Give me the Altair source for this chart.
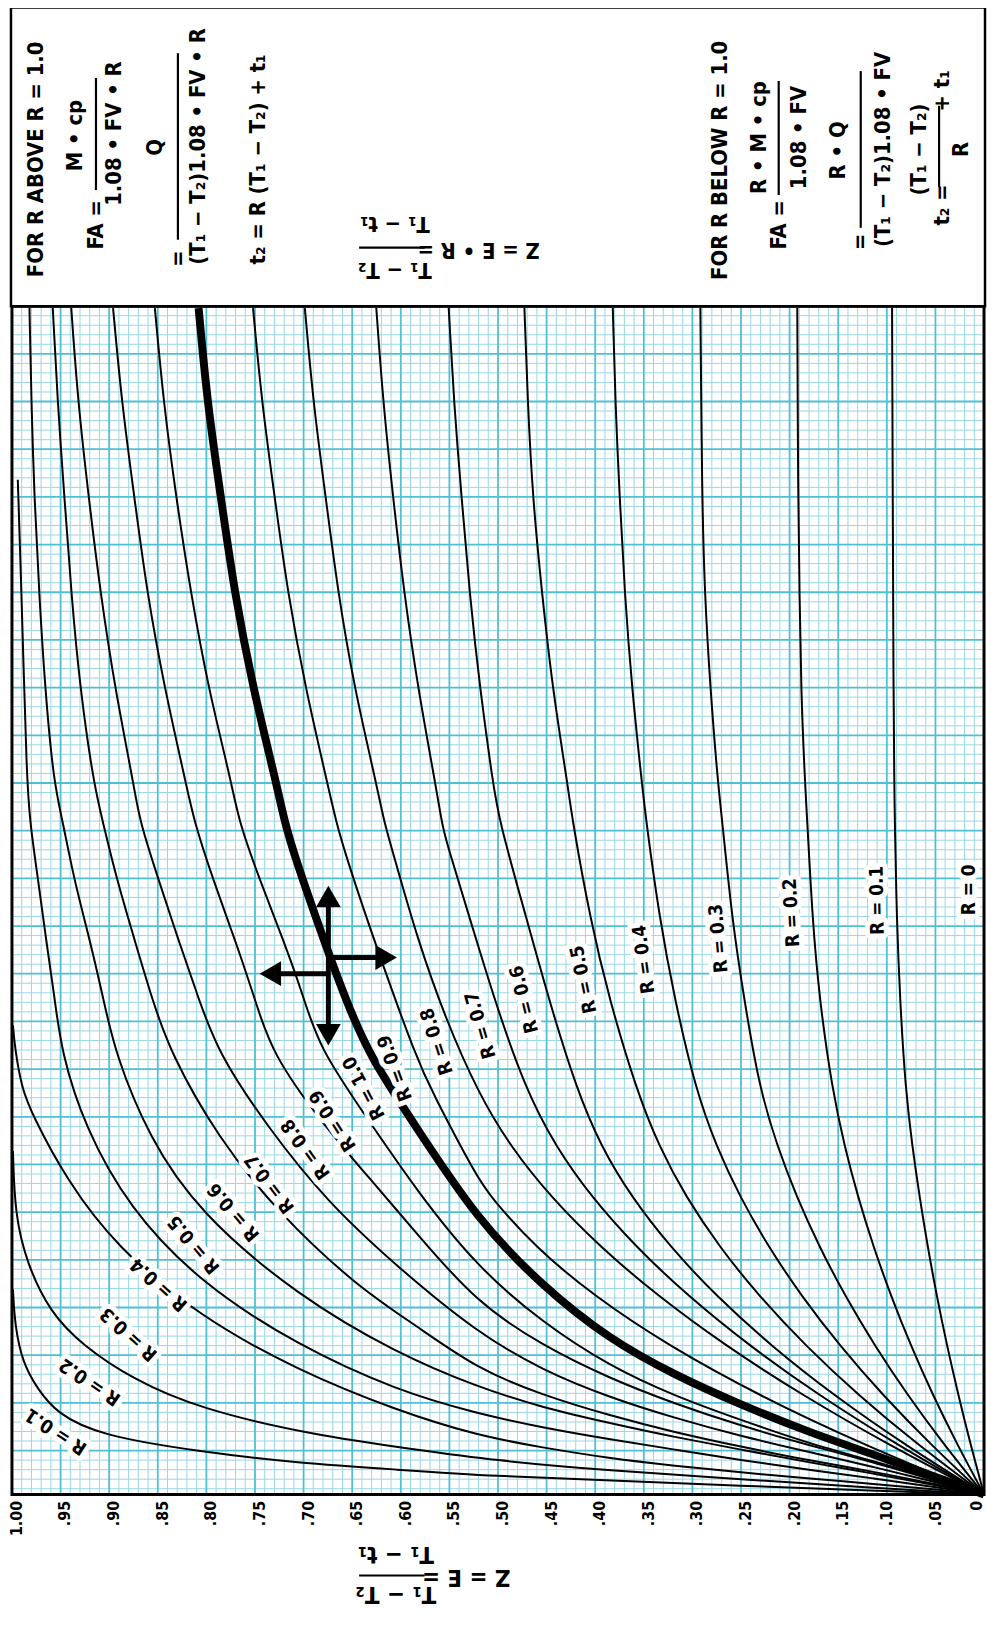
import altair as alt
import pandas as pd

# ---------------- data ----------------
# Horizontal axis: Z (1.00 at left -> 0 at right); vertical: FA in grid units (0 at bottom)
Z_TICKS = [round(i * 0.05, 2) for i in range(21)]

# thick curve R = 1.0
R10_Z = [0.808, 0.799, 0.785, 0.771, 0.752, 0.728, 0.720, 0.708, 0.676, 0.657, 0.632, 0.584, 0.522, 0.454, 0.386, 0.318, 0.250, 0.182, 0.114, 0.046, 0.0]
R10_FA = [124.4, 114.4, 104.5, 94.5, 84.5, 74.6, 70.7, 66.5, 57.2, 52.0, 45.9, 38.5, 28.9, 21.8, 16.3, 12.5, 9.4, 6.6, 4.2, 1.7, 0.0]

# family "R below 1.0" (right side)
RB9_Z = [0.7520, 0.7429, 0.7296, 0.7163, 0.6980, 0.6755, 0.6670, 0.6551, 0.6245, 0.5837, 0.5673, 0.5224, 0.5077, 0.4624, 0.4013, 0.3247, 0.2321, 0.1240, 0.0]
RB9_FA = [124.4, 114.4, 104.5, 94.5, 84.5, 74.6, 70.7, 66.5, 57.2, 45.7, 42.1, 33.4, 31.2, 26.0, 20.8, 15.6, 10.4, 5.2, 0.0]
RB8_Z = [0.6987, 0.6900, 0.6772, 0.6645, 0.6477, 0.6252, 0.6177, 0.6058, 0.5827, 0.5541, 0.5204, 0.4867, 0.4458, 0.3955, 0.3355, 0.2660, 0.1868, 0.0983, 0.0]
RB8_FA = [124.4, 114.4, 104.5, 94.5, 84.5, 74.6, 70.7, 66.5, 58.2, 49.9, 42.1, 36.4, 31.2, 26.0, 20.8, 15.6, 10.4, 5.2, 0.0]
RB7_Z = [0.6252, 0.6181, 0.6079, 0.5966, 0.5823, 0.5645, 0.5582, 0.5538, 0.5286, 0.5041, 0.4722, 0.4403, 0.4039, 0.3586, 0.3045, 0.2416, 0.1699, 0.0894, 0.0]
RB7_FA = [124.4, 114.4, 104.5, 94.5, 84.5, 74.6, 70.7, 68.6, 60.3, 52.0, 42.6, 36.4, 31.2, 26.0, 20.8, 15.6, 10.4, 5.2, 0.0]
RB6_Z = [0.5507, 0.5453, 0.5374, 0.5293, 0.5186, 0.5052, 0.4990, 0.4704, 0.4480, 0.4196, 0.3937, 0.3627, 0.3233, 0.2755, 0.2193, 0.1546, 0.0815, 0.0]
RB6_FA = [124.4, 114.4, 104.5, 94.5, 84.5, 74.6, 70.7, 60.3, 52.0, 42.6, 36.4, 31.2, 26.0, 20.8, 15.6, 10.4, 5.2, 0.0]
RB5_Z = [0.4728, 0.4694, 0.4643, 0.4548, 0.4439, 0.4286, 0.4235, 0.4051, 0.3857, 0.3582, 0.3341, 0.3067, 0.2726, 0.2315, 0.1838, 0.1293, 0.0681, 0.0]
RB5_FA = [124.4, 114.4, 104.5, 94.5, 84.5, 74.6, 70.7, 60.3, 52.0, 42.6, 36.4, 31.2, 26.0, 20.8, 15.6, 10.4, 5.2, 0.0]
RB4_Z = [0.3819, 0.3793, 0.3748, 0.3697, 0.3622, 0.3520, 0.3477, 0.3337, 0.3184, 0.2971, 0.2751, 0.2511, 0.2220, 0.1878, 0.1485, 0.1041, 0.0546, 0.0]
RB4_FA = [124.4, 114.4, 104.5, 94.5, 84.5, 74.6, 70.7, 60.3, 52.0, 42.6, 36.4, 31.2, 26.0, 20.8, 15.6, 10.4, 5.2, 0.0]
RB3_Z = [0.2918, 0.2901, 0.2874, 0.2816, 0.2738, 0.2694, 0.2592, 0.2469, 0.2311, 0.2123, 0.1928, 0.1696, 0.1429, 0.1124, 0.0786, 0.0410, 0.0]
RB3_FA = [124.4, 104.5, 94.5, 84.5, 74.6, 70.7, 60.3, 52.0, 42.6, 36.4, 31.2, 26.0, 20.8, 15.6, 10.4, 5.2, 0.0]
RB2_Z = [0.1921, 0.1913, 0.1898, 0.1883, 0.1842, 0.1819, 0.1765, 0.1694, 0.1564, 0.1433, 0.1297, 0.1139, 0.0957, 0.0753, 0.0526, 0.0274, 0.0]
RB2_FA = [124.4, 104.5, 94.5, 84.5, 74.6, 70.7, 60.3, 52.0, 42.6, 36.4, 31.2, 26.0, 20.8, 15.6, 10.4, 5.2, 0.0]
RB1_Z = [0.0946, 0.0939, 0.0932, 0.0923, 0.0918, 0.0898, 0.0865, 0.0809, 0.0737, 0.0663, 0.0580, 0.0486, 0.0381, 0.0264, 0.0138, 0.0]
RB1_FA = [124.4, 104.5, 84.5, 74.6, 70.7, 60.3, 52.0, 42.6, 36.4, 31.2, 26.0, 20.8, 15.6, 10.4, 5.2, 0.0]

# family "R above 1.0" (left side)
RA9_Z = [0.853, 0.844, 0.831, 0.816, 0.798, 0.774, 0.767, 0.745, 0.721, 0.701, 0.684, 0.635, 0.584, 0.522, 0.454, 0.386, 0.318, 0.250, 0.182, 0.114, 0.046, 0.0]
RA9_FA = [124.4, 114.4, 104.5, 94.5, 84.5, 74.6, 70.7, 64.4, 58.2, 52.5, 46.8, 39.5, 31.9, 23.9, 18.0, 13.5, 10.3, 7.8, 5.4, 3.5, 1.5, 0.0]
RA8_Z = [0.896, 0.887, 0.874, 0.861, 0.843, 0.821, 0.813, 0.793, 0.767, 0.747, 0.732, 0.686, 0.624, 0.584, 0.522, 0.454, 0.386, 0.318, 0.250, 0.182, 0.114, 0.046, 0.0]
RA8_FA = [124.4, 114.4, 104.5, 94.5, 84.5, 74.6, 70.7, 64.4, 57.2, 50.9, 46.3, 39.5, 32.2, 27.4, 20.1, 15.6, 12.2, 9.5, 7.2, 5.2, 3.4, 1.3, 0.0]
RA7_Z = [0.939, 0.932, 0.921, 0.909, 0.894, 0.875, 0.869, 0.849, 0.829, 0.808, 0.788, 0.737, 0.676, 0.604, 0.522, 0.454, 0.386, 0.318, 0.250, 0.182, 0.114, 0.046, 0.0]
RA7_FA = [124.4, 114.4, 104.5, 94.5, 84.5, 74.6, 70.7, 64.4, 58.2, 52.0, 46.3, 38.5, 30.7, 23.9, 17.0, 13.0, 10.2, 8.0, 6.1, 4.5, 2.9, 1.2, 0.0]
RA6_Z = [0.958, 0.953, 0.946, 0.939, 0.930, 0.916, 0.907, 0.892, 0.874, 0.856, 0.837, 0.788, 0.727, 0.645, 0.584, 0.522, 0.454, 0.386, 0.318, 0.250, 0.182, 0.114, 0.046, 0.0]
RA6_FA = [124.4, 114.4, 104.5, 94.5, 84.5, 74.6, 70.7, 64.4, 58.2, 52.0, 46.3, 37.4, 29.6, 21.8, 17.7, 13.2, 10.4, 8.3, 6.5, 5.0, 3.6, 2.4, 1.0, 0.0]
RA5_Z = [0.982, 0.980, 0.977, 0.972, 0.966, 0.957, 0.948, 0.936, 0.920, 0.906, 0.894, 0.859, 0.808, 0.706, 0.604, 0.522, 0.454, 0.386, 0.318, 0.250, 0.182, 0.114, 0.046, 0.0]
RA5_FA = [124.4, 114.4, 104.5, 94.5, 84.5, 74.6, 70.7, 64.4, 58.2, 52.0, 46.3, 37.4, 29.6, 20.8, 14.8, 11.3, 9.1, 7.5, 6.0, 4.7, 3.4, 2.2, 0.9, 0.0]
RA4_Z = [0.994, 0.991, 0.988, 0.985, 0.982, 0.973, 0.965, 0.956, 0.949, 0.925, 0.880, 0.808, 0.706, 0.604, 0.522, 0.454, 0.386, 0.318, 0.250, 0.182, 0.114, 0.046, 0.0]
RA4_FA = [106.4, 97.0, 86.6, 76.2, 70.7, 64.4, 58.2, 52.0, 46.3, 38.5, 30.1, 22.3, 15.6, 10.9, 8.5, 7.0, 5.8, 4.7, 3.6, 2.6, 1.7, 0.7, 0.0]
RA3_Z = [0.999, 0.997, 0.990, 0.979, 0.944, 0.893, 0.808, 0.706, 0.604, 0.522, 0.454, 0.386, 0.318, 0.250, 0.182, 0.114, 0.046, 0.0]
RA3_FA = [49.2, 46.8, 42.6, 39.8, 33.0, 26.0, 18.7, 13.0, 8.8, 6.2, 4.9, 3.8, 3.0, 2.3, 1.7, 1.1, 0.5, 0.0]
RA2_Z = [0.999, 0.997, 0.985, 0.961, 0.927, 0.876, 0.808, 0.689, 0.584, 0.507, 0.386, 0.250, 0.114, 0.0]
RA2_FA = [36.0, 29.4, 24.3, 19.1, 15.6, 12.1, 9.0, 6.2, 4.7, 3.6, 2.5, 1.6, 0.7, 0.0]
RA1_Z = [0.999, 0.997, 0.989, 0.974, 0.954, 0.910, 0.808, 0.706, 0.604, 0.502, 0.386, 0.250, 0.114, 0.0]
RA1_FA = [21.5, 17.7, 13.8, 11.1, 8.5, 6.2, 4.5, 3.3, 2.6, 1.9, 1.5, 0.9, 0.4, 0.0]

# curve labels
LABEL_TEXT = ["R = 0.1", "R = 0.2", "R = 0.3", "R = 0.4", "R = 0.5", "R = 0.6", "R = 0.7", "R = 0.8", "R = 0.9", "R = 1.0",
              "R = 0.9", "R = 0.8", "R = 0.7", "R = 0.6", "R = 0.5", "R = 0.4", "R = 0.3", "R = 0.2", "R = 0.1", "R = 0"]
LABEL_Z = [0.955, 0.920, 0.880, 0.849, 0.813, 0.772, 0.735, 0.698, 0.670, 0.638,
           0.606, 0.563, 0.518, 0.473, 0.412, 0.350, 0.273, 0.198, 0.110, 0.015]
LABEL_FA = [6.6, 11.8, 16.8, 22.0, 26.2, 29.6, 32.6, 36.2, 39.2, 42.6,
            44.7, 47.5, 49.2, 51.9, 54.0, 56.1, 58.3, 61.0, 62.3, 63.4]
LABEL_ANGLE = [213, 214, 222, 222, 230, 230, 233, 234, 237, 242,
               250, 252, 254, 256, 258, 262, 265, 267, 269, 270]

# cross of arrows
SHAFT_Z1 = [0.6745, 0.6745, 0.6745]
SHAFT_Z2 = [0.6745, 0.7342, 0.6151]
SHAFT_FA1 = [48.2, 54.6, 56.3]
SHAFT_FA2 = [62.7, 54.6, 56.3]
HEAD_Z = [0.6745, 0.6745, 0.7342, 0.6151]
HEAD_FA = [62.7, 48.2, 54.6, 56.3]
HEAD_SHAPE = ["triangle-up", "triangle-down", "triangle-left", "triangle-right"]

# ---------------- build ----------------
FONT = "'Liberation Sans Narrow', 'DejaVu Sans Condensed', 'Arial Narrow', sans-serif"
W, H = 980, 1198
FA_TOP = 124.6
MINOR = "#98d8e4"
MAJOR = "#4fc0d4"

CURVES = [
    ("RB9", RB9_Z, RB9_FA), ("RB8", RB8_Z, RB8_FA), ("RB7", RB7_Z, RB7_FA), ("RB6", RB6_Z, RB6_FA),
    ("RB5", RB5_Z, RB5_FA), ("RB4", RB4_Z, RB4_FA), ("RB3", RB3_Z, RB3_FA), ("RB2", RB2_Z, RB2_FA),
    ("RB1", RB1_Z, RB1_FA),
    ("RA9", RA9_Z, RA9_FA), ("RA8", RA8_Z, RA8_FA), ("RA7", RA7_Z, RA7_FA), ("RA6", RA6_Z, RA6_FA),
    ("RA5", RA5_Z, RA5_FA), ("RA4", RA4_Z, RA4_FA), ("RA3", RA3_Z, RA3_FA), ("RA2", RA2_Z, RA2_FA),
    ("RA1", RA1_Z, RA1_FA),
]
rows = []
for name, zs, fs in CURVES:
    for i, (z, f) in enumerate(zip(zs, fs)):
        rows.append({"curve": name, "Z": z, "FA": f, "i": i})
thin_df = pd.DataFrame(rows)
thick_df = pd.DataFrame({"Z": R10_Z, "FA": R10_FA, "i": list(range(len(R10_Z)))})
label_df = pd.DataFrame({"t": LABEL_TEXT, "Z": LABEL_Z, "FA": LABEL_FA, "a": LABEL_ANGLE})
shaft_df = pd.DataFrame({"Z": SHAFT_Z1, "Z2": SHAFT_Z2, "FA": SHAFT_FA1, "FA2": SHAFT_FA2})
head_df = pd.DataFrame({"Z": HEAD_Z, "FA": HEAD_FA, "s": HEAD_SHAPE})

vminor = pd.DataFrame({"Z": [i / 100 for i in range(1, 100) if i % 5]})
vmajor = pd.DataFrame({"Z": [i / 100 for i in range(5, 100, 5)]})
hminor = pd.DataFrame({"FA": [0.6 + k for k in range(124) if (k + 1) % 5 != 0]})
hmajor = pd.DataFrame({"FA": [4.6 + 5 * k for k in range(24)]})

XS = alt.Scale(domain=[0, 1], reverse=True, nice=False, zero=False)
YS = alt.Scale(domain=[0, FA_TOP], nice=False, zero=False)
XAXIS = alt.Axis(
    values=Z_TICKS,
    labelExpr="datum.value == 1 ? '1.00' : (datum.value == 0 ? '0' : replace(format(datum.value, '.2f'), '0.', '.'))",
    labelAngle=270, labelFont=FONT, labelFontSize=16, labelFontWeight="bold", labelColor="black",
    labelPadding=6, labelFlush=False, labelOverlap=False, labelBound=False,
    labelOffset={"condition": [{"test": "datum.value == 0", "value": -8},
                               {"test": "datum.value <= 0.1", "value": 0}], "value": 4.5},
    domain=False, ticks=False, grid=False, title=None,
)


def X(field="Z"):
    return alt.X(f"{field}:Q", scale=XS, axis=XAXIS)


def Y(field="FA"):
    return alt.Y(f"{field}:Q", scale=YS, axis=None)


ONE = pd.DataFrame({"k": [0]})


def txt(s, px, py, angle=270, size=22):
    return alt.Chart(ONE).mark_text(
        font=FONT, fontWeight="bold", fontSize=size, angle=angle, align="center",
        baseline="middle", color="black",
    ).encode(x=alt.value(px), y=alt.value(py), text=alt.value(s))


def bar(x1, y1, x2, y2, w=2.2):
    return alt.Chart(ONE).mark_rule(color="black", strokeWidth=w).encode(
        x=alt.value(x1), y=alt.value(y1), x2=alt.value(x2), y2=alt.value(y2))


layers = [
    alt.Chart(vminor).mark_rule(color=MINOR, strokeWidth=1).encode(x=X()),
    alt.Chart(hminor).mark_rule(color=MINOR, strokeWidth=1).encode(y=Y()),
    alt.Chart(vmajor).mark_rule(color=MAJOR, strokeWidth=1.8).encode(x=X()),
    alt.Chart(hmajor).mark_rule(color=MAJOR, strokeWidth=1.8).encode(y=Y()),
    alt.Chart(thin_df).mark_line(interpolate="basis", color="black", strokeWidth=2).encode(
        x=X(), y=Y(), detail="curve:N", order="i:Q"),
    alt.Chart(thick_df).mark_line(interpolate="basis", color="black", strokeWidth=8).encode(
        x=X(), y=Y(), order="i:Q"),
    alt.Chart(label_df).mark_text(
        font=FONT, fontWeight="bold", fontSize=19, align="center", baseline="middle",
        color="white", stroke="white", strokeWidth=10, strokeJoin="round",
    ).encode(x=X(), y=Y(), text="t:N", angle=alt.Angle("a:Q", scale=None)),
    alt.Chart(label_df).mark_text(
        font=FONT, fontWeight="bold", fontSize=19, align="center", baseline="middle", color="black",
    ).encode(x=X(), y=Y(), text="t:N", angle=alt.Angle("a:Q", scale=None)),
    alt.Chart(shaft_df).mark_rule(color="black", strokeWidth=5).encode(
        x=X(), x2="Z2:Q", y=Y(), y2="FA2:Q"),
    alt.Chart(head_df).mark_point(filled=True, size=625, color="black", opacity=1).encode(
        x=X(), y=Y(), shape=alt.Shape("s:N", scale=None)),
    # plot frame
    alt.Chart(ONE).mark_rect(filled=False, stroke="black", strokeWidth=3).encode(
        x=alt.value(0), x2=alt.value(W), y=alt.value(0), y2=alt.value(H)),
    # formula box
    alt.Chart(ONE).mark_rect(fill="white", stroke="black", strokeWidth=2.5).encode(
        x=alt.value(-1), x2=alt.value(981), y=alt.value(-301), y2=alt.value(0)),
    # left block
    txt("FOR R ABOVE R = 1.0", 24.7, -148),
    txt("FA =", 85, -82),
    txt("M • cp", 64, -172),
    bar(84.7, -230, 84.7, -117),
    txt("1.08 • FV • R", 103, -174),
    txt("Q", 144.7, -160),
    txt("=", 167, -48),
    bar(167.3, -255, 167.3, -67),
    txt("(T₁ − T₂)1.08 • FV • R", 188, -161),
    txt("t₂ = R (T₁ − T₂) + t₁", 248, -148),
    # middle
    txt("Z = E • R =", 470.5, -57, angle=180),
    bar(350, -59, 416, -59),
    txt("T₁ − T₂", 386, -37, angle=180),
    txt("T₁ − t₁", 386, -83, angle=180),
    # right block
    txt("FOR R BELOW R = 1.0", 714, -147),
    txt("FA =", 773, -82),
    txt("R • M • cp", 753, -170),
    bar(773, -227, 773, -112),
    txt("1.08 • FV", 794, -170),
    txt("R • Q", 833, -157),
    txt("=", 855, -65),
    bar(855.7, -237, 855.7, -79),
    txt("(T₁ − T₂)1.08 • FV", 878, -158),
    txt("t₂ =", 938, -102),
    txt("(T₁ − T₂)", 914, -158),
    bar(934.7, -202, 934.7, -120),
    txt("R", 957, -158),
    txt("+ t₁", 938, -217),
    # bottom axis title
    txt("Z = E =", 458, 1281, angle=180, size=24),
    bar(350, 1279.7, 416, 1279.7),
    txt("T₁ − T₂", 387, 1298, angle=180, size=24),
    txt("T₁ − t₁", 387, 1258, angle=180, size=24),
]

chart = alt.layer(*layers).properties(
    width=W, height=H,
    padding={"left": 4, "top": 294, "right": 3, "bottom": 119},
    autosize=alt.AutoSizeParams(type="none"),
    background="white",
).configure_view(stroke=None)

chart.save("out.html", embed_options={"renderer": "svg", "actions": False})
